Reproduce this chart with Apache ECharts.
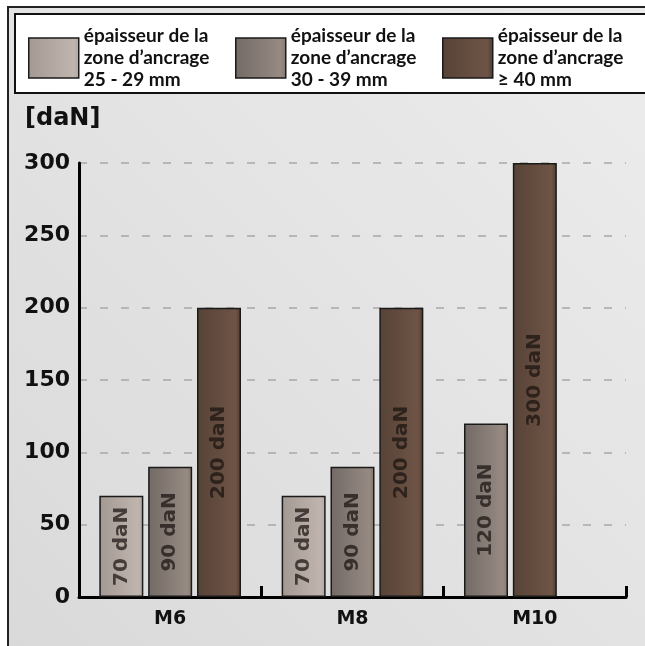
<!DOCTYPE html>
<html>
<head>
    <meta charset="utf-8">
    <title>daN</title>
    <script type="text/javascript" src="https://cdn.jsdelivr.net/npm/echarts@6/dist/echarts.min.js"></script>
    <style>
        html, body { margin: 0; padding: 0; background: #fff; }
        #main { width: 645px; height: 646px; }
    </style>
</head>
<body>
    <div id="main"></div>
    <script type="text/javascript">
        // données
        var categories = ['M6', 'M8', 'M10'];
        var zone25 = [70, 70, null];
        var zone30 = [90, 90, 120];
        var zone40 = [200, 200, 300];
        var classNames = ['25 - 29 mm', '30 - 39 mm', '≥ 40 mm'];
        var yTicks = { min: 0, max: 300, interval: 50 };

        var font = 'DejaVu Sans';
        var legendFont = '"Liberation Sans Narrow", Lato, sans-serif';

        function grad(c0, c1, c2) {
            return new echarts.graphic.LinearGradient(0, 0, 1, 0, [
                { offset: 0, color: c0 },
                { offset: 0.88, color: c1 },
                { offset: 1, color: c2 }
            ]);
        }
        var colors = [
            grad('#a39993', '#c0b5ae', '#b3a8a1'),
            grad('#736a66', '#968a82', '#85776f'),
            grad('#574337', '#6e5446', '#4d3b30')
        ];

        // les barres de chaque repère se placent à gauche quand une classe manque
        var classes = [zone25, zone30, zone40];
        var slots = [[], [], []];
        for (var i = 0; i < categories.length; i++) {
            var k = 0;
            for (var c = 0; c < classes.length; c++) {
                var v = classes[c][i];
                if (v == null) continue;
                slots[k].push({ value: v, itemStyle: { color: colors[c] } });
                k++;
            }
            for (; k < 3; k++) slots[k].push('-');
        }

        var series = [];
        for (var s = 0; s < 3; s++) {
            series.push({
                name: classNames[s],
                type: 'bar',
                barWidth: 44,
                barGap: '11%',
                data: slots[s],
                itemStyle: { color: colors[s], borderColor: '#1a1a1a', borderWidth: 1.5 },
                label: {
                    show: true,
                    position: 'inside',
                    rotate: 90,
                    formatter: '{c} daN',
                    fontFamily: font,
                    fontWeight: 'bold',
                    fontSize: 20,
                    color: 'rgba(25,18,15,0.72)'
                }
            });
        }

        var legends = [];
        var legendX = [28, 235, 442];
        for (var l = 0; l < 3; l++) {
            legends.push({
                data: [classNames[l]],
                left: legendX[l],
                top: 20,
                padding: 0,
                itemWidth: 50,
                itemHeight: 40,
                itemGap: 9,
                icon: 'rect',
                selectedMode: false,
                itemStyle: { borderColor: '#1a1a1a', borderWidth: 1.5 },
                formatter: function (name) {
                    return 'épaisseur de la\nzone d’ancrage\n' + name;
                },
                textStyle: {
                    fontFamily: legendFont,
                    fontWeight: 'bold',
                    fontSize: 19,
                    lineHeight: 22,
                    padding: [10, 0, 0, 0],
                    color: '#111'
                }
            });
        }

        var myChart = echarts.init(document.getElementById('main'));
        myChart.setOption({
            animation: false,
            graphic: [
                {
                    type: 'rect', z: -10, silent: true,
                    shape: { x: 8, y: 7, width: 660, height: 660 },
                    style: {
                        fill: new echarts.graphic.LinearGradient(0, 1, 1, 0, [
                            { offset: 0, color: '#d9d9d9' },
                            { offset: 1, color: '#ededed' }
                        ]),
                        stroke: '#222', lineWidth: 2
                    }
                },
                {
                    type: 'rect', z: -9, silent: true,
                    shape: { x: 15, y: 14, width: 660, height: 79 },
                    style: { fill: '#fff', stroke: '#111', lineWidth: 2 }
                }
            ],
            title: {
                text: '[daN]',
                left: 25,
                top: 107,
                padding: 0,
                textStyle: { fontFamily: font, fontWeight: 'bold', fontSize: 24, color: '#111' }
            },
            legend: legends,
            grid: { left: 79, right: 19, top: 163, bottom: 49 },
            xAxis: {
                type: 'category',
                data: categories,
                axisLine: { lineStyle: { color: '#000', width: 3 } },
                axisTick: { show: true, inside: true, length: 11, lineStyle: { color: '#000', width: 3 } },
                axisLabel: { fontFamily: font, fontWeight: 'bold', fontSize: 19, color: '#111', margin: 13 }
            },
            yAxis: {
                type: 'value',
                min: yTicks.min,
                max: yTicks.max,
                interval: yTicks.interval,
                axisLine: { show: true, lineStyle: { color: '#000', width: 3 } },
                axisTick: { show: false },
                axisLabel: { fontFamily: font, fontWeight: 'bold', fontSize: 22, color: '#111', margin: 9 },
                splitLine: { lineStyle: { color: '#a8a8a8', width: 1.5, type: [8, 13] } }
            },
            series: series
        });
    </script>
</body>
</html>
